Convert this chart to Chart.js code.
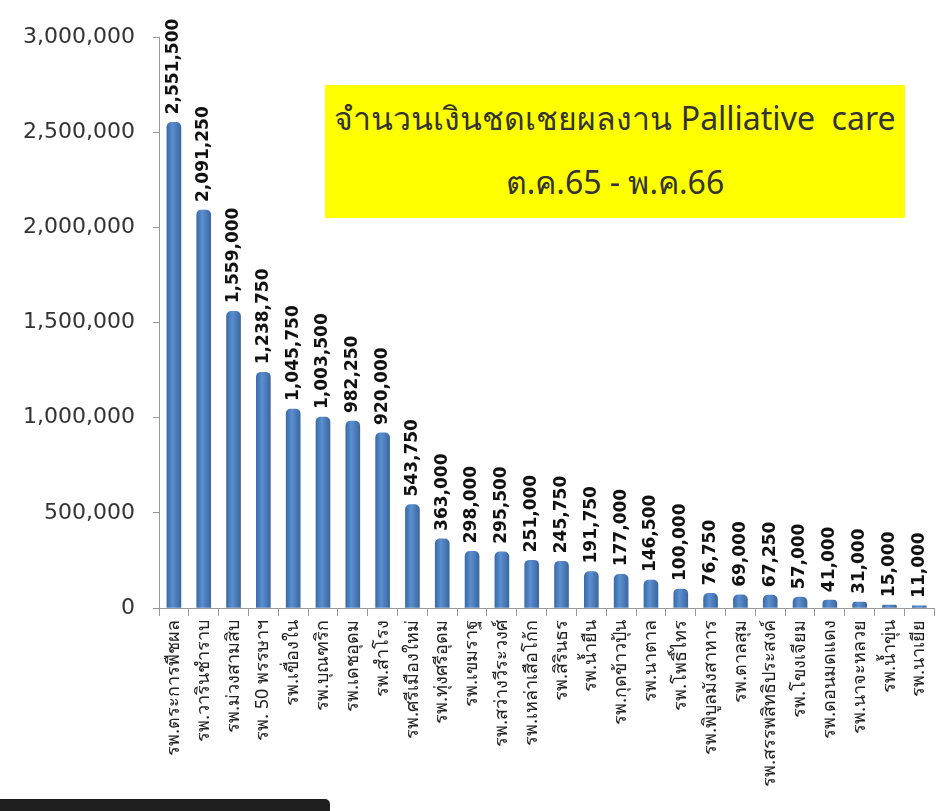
<!DOCTYPE html>
<html>
<head>
<meta charset="utf-8">
<script src="https://cdn.jsdelivr.net/npm/chart.js@4/dist/chart.umd.min.js"></script>
<style>
  html,body{margin:0;padding:0;background:#fff;}
  #wrap{position:relative;width:945px;height:811px;}
  #title{position:absolute;left:325px;top:85px;width:580px;height:133px;background:#ffff00;
    font-family:Tahoma,"Noto Sans","DejaVu Sans",sans-serif;font-size:32px;color:#333;text-align:center;}
  #title div{position:absolute;left:0;right:0;white-space:nowrap;}
  #bar{position:absolute;left:0;top:799px;width:330px;height:12px;background:#1f1f1f;border-top-right-radius:5px;}
</style>
</head>
<body>
<div id="wrap">
  <canvas id="c" width="945" height="811"></canvas>
  <div id="title">
    <div style="top:8px">จำนวนเงินชดเชยผลงาน Palliative&nbsp; care</div>
    <div style="top:72px">ต.ค.65 - พ.ค.66</div>
  </div>
  <div id="bar"></div>
</div>
<script>
const hospitals = [
  'รพ.ตระการพืชผล','รพ.วารินชำราบ','รพ.ม่วงสามสิบ','รพ. 50 พรรษาฯ','รพ.เขื่องใน',
  'รพ.บุณฑริก','รพ.เดชอุดม','รพ.สำโรง','รพ.ศรีเมืองใหม่','รพ.ทุ่งศรีอุดม',
  'รพ.เขมราฐ','รพ.สว่างวีระวงศ์','รพ.เหล่าเสือโก้ก','รพ.สิรินธร','รพ.น้ำยืน',
  'รพ.กุดข้าวปุ้น','รพ.นาตาล','รพ.โพธิ์ไทร','รพ.พิบูลมังสาหาร','รพ.ตาลสุม',
  'รพ.สรรพสิทธิประสงค์','รพ.โขงเจียม','รพ.ดอนมดแดง','รพ.นาจะหลวย','รพ.น้ำขุ่น','รพ.นาเยีย'
];
const amounts = [
  2551500,2091250,1559000,1238750,1045750,
  1003500,982250,920000,543750,363000,
  298000,295500,251000,245750,191750,
  177000,146500,100000,76750,69000,
  67250,57000,41000,31000,15000,11000
];

const fmt = v => v.toLocaleString('en-US');

// value labels, rotated, above each bar
const valueLabels = {
  id:'valueLabels',
  afterDatasetsDraw(chart){
    const ctx = chart.ctx;
    const meta = chart.getDatasetMeta(0);
    ctx.save();
    ctx.font = 'bold 17px Tahoma, "DejaVu Sans", sans-serif';
    ctx.fillStyle = '#111';
    ctx.textAlign = 'left';
    ctx.textBaseline = 'middle';
    meta.data.forEach((b,i) => {
      ctx.save();
      ctx.translate(b.x, b.y - 8);
      ctx.rotate(-Math.PI/2);
      ctx.fillText(fmt(amounts[i]), 0, 0);
      ctx.restore();
    });
    ctx.restore();
  }
};

function barFill(context){
  const chart = context.chart;
  const sx = chart.scales && chart.scales.x;
  if (!sx || !chart.chartArea) return '#4f81bd';
  const x = sx.getPixelForValue(context.dataIndex);
  if (!Number.isFinite(x)) return '#4f81bd';
  const w = 14;
  const g = chart.ctx.createLinearGradient(x - w/2, 0, x + w/2, 0);
  g.addColorStop(0, '#3a6aa8');
  g.addColorStop(0.4, '#5b8fd0');
  g.addColorStop(1, '#3b67a0');
  return g;
}

new Chart(document.getElementById('c'), {
  type:'bar',
  data:{
    labels:hospitals,
    datasets:[{
      data:amounts,
      backgroundColor:barFill,
      borderWidth:0,
      barThickness:14,
      borderRadius:{topLeft:5,topRight:5},
      borderSkipped:'bottom'
    }]
  },
  options:{
    responsive:false,
    animation:false,
    layout:{ padding:{ top:37, right:5, left:0, bottom:0 } },
    plugins:{ legend:{ display:false }, tooltip:{ enabled:false } },
    scales:{
      y:{
        min:0, max:3000000,
        ticks:{ stepSize:500000, color:'#333', padding:18,
          font:{ size:22, family:'Tahoma, "DejaVu Sans", sans-serif' },
          callback:v => fmt(v) },
        grid:{ drawOnChartArea:false, tickLength:6, color:'#999' },
        border:{ color:'#999' },
        afterFit:s => { s.width = 159; }
      },
      x:{
        ticks:{ minRotation:90, maxRotation:90, autoSkip:false, color:'#222', padding:4,
          font:{ size:18, family:'Tahoma, "Noto Sans", "DejaVu Sans", sans-serif' } },
        grid:{ offset:true, drawOnChartArea:false, tickLength:8, color:'#999' },
        border:{ color:'#999' },
        afterFit:s => { s.height = 203; }
      }
    }
  },
  plugins:[valueLabels]
});
</script>
</body>
</html>
